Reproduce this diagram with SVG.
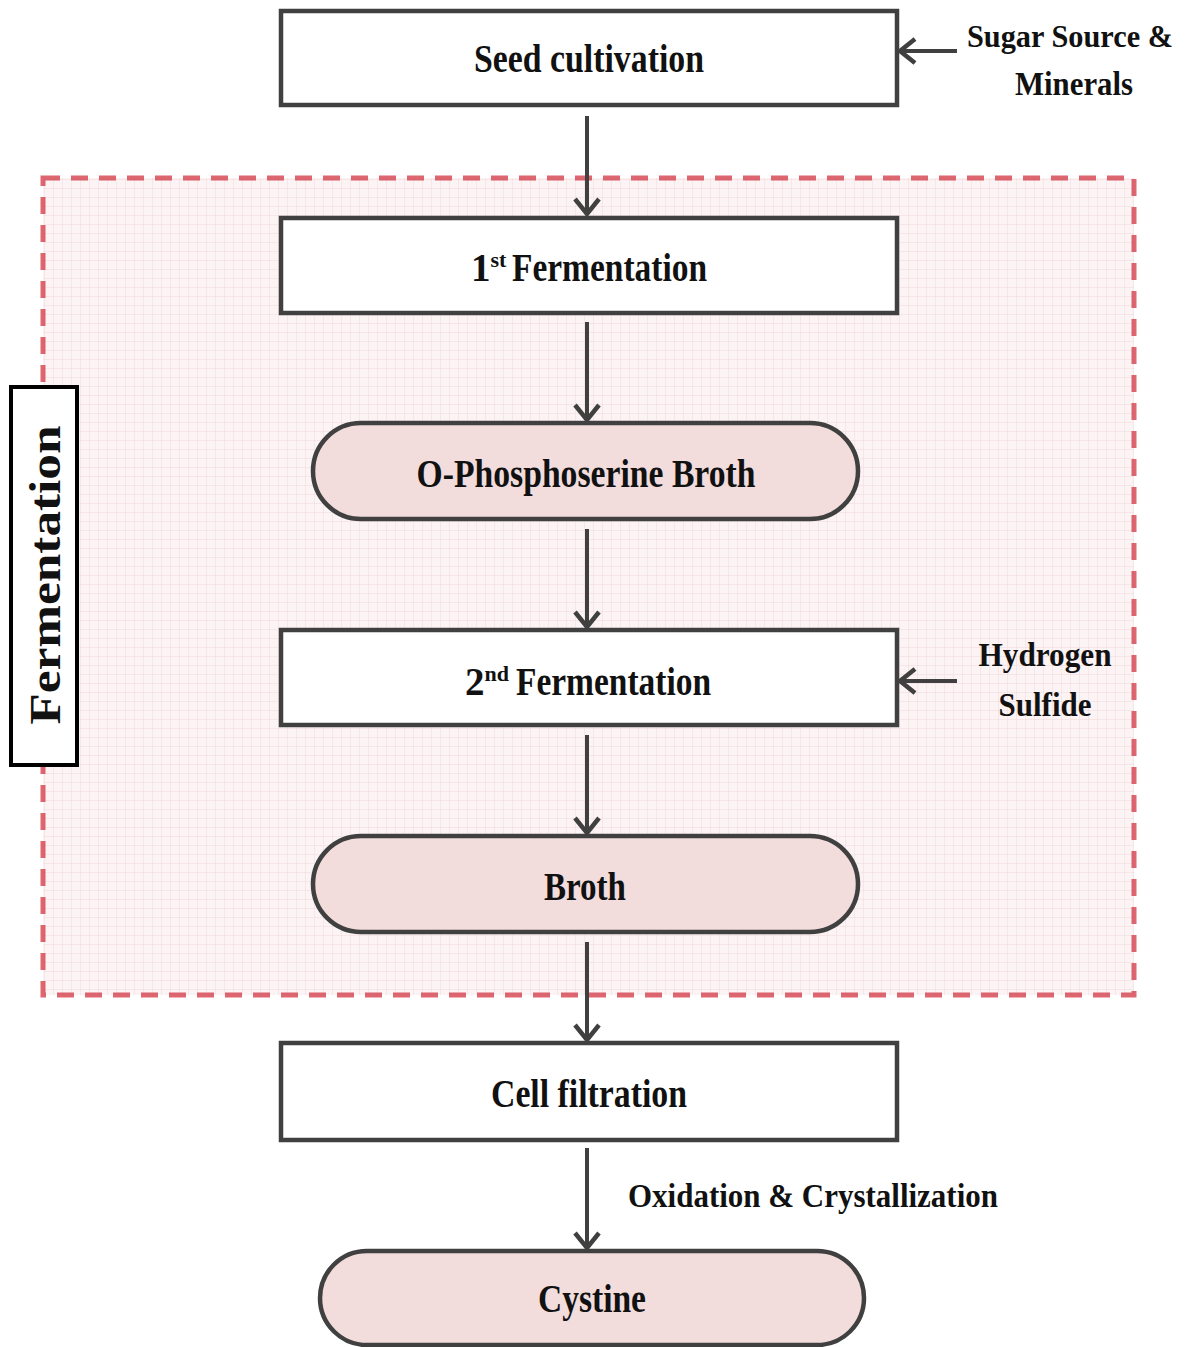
<svg xmlns="http://www.w3.org/2000/svg" width="1188" height="1347" viewBox="0 0 1188 1347">
<defs>
<pattern id="grid" width="9" height="9" patternUnits="userSpaceOnUse">
<rect width="9" height="9" fill="#fbf3f4"/>
<path d="M9,0 L9,9 M0,9 L9,9" stroke="#f1dadd" stroke-width="1" fill="none"/>
</pattern>
<marker id="arr" markerUnits="userSpaceOnUse" markerWidth="28" markerHeight="28" viewBox="0 0 28 28" refX="24" refY="14" orient="auto">
<path d="M9,2 L24,14 L9,26" fill="none" stroke="#404040" stroke-width="4.5" stroke-linejoin="miter"/>
</marker>
</defs>
<style>
.box{fill:#ffffff;stroke:#404040;stroke-width:4.5}
.pill{fill:#f2dcdc;stroke:#404040;stroke-width:4.5}
.t{font-family:"Liberation Serif","Times New Roman",serif;font-weight:bold;fill:#111;font-size:39px}
.s{font-size:34px}
.c{stroke:#404040;stroke-width:4;fill:none;marker-end:url(#arr)}
</style>
<rect width="1188" height="1347" fill="#ffffff"/>
<g id="fermentation-region">
<rect x="43" y="178" width="1091" height="817" fill="url(#grid)" stroke="#d23442" stroke-width="5" stroke-dasharray="17 11" stroke-opacity="0.75"/>
</g>
<g id="fermentation-label">
<rect x="11" y="387" width="66" height="378" fill="#ffffff" stroke="#000" stroke-width="4"/>
<text class="t" transform="translate(60,575) rotate(-90)" text-anchor="middle" textLength="299" lengthAdjust="spacingAndGlyphs" style="font-size:44px">Fermentation</text>
</g>
<g id="connectors">
<line class="c" x1="587" y1="116" x2="587" y2="214"/>
<line class="c" x1="587" y1="322" x2="587" y2="420"/>
<line class="c" x1="587" y1="529" x2="587" y2="627"/>
<line class="c" x1="587" y1="735" x2="587" y2="833"/>
<line class="c" x1="587" y1="942" x2="587" y2="1040"/>
<line class="c" x1="587" y1="1148" x2="587" y2="1248"/>
<line class="c" x1="957" y1="51" x2="900" y2="51"/>
<line class="c" x1="957" y1="681" x2="900" y2="681"/>
</g>
<g id="seed-cultivation">
<rect class="box" x="281" y="11" width="616" height="94"/>
<text class="t" x="589" y="72" text-anchor="middle" textLength="230" lengthAdjust="spacingAndGlyphs">Seed cultivation</text>
</g>
<g id="first-fermentation">
<rect class="box" x="281" y="218" width="616" height="95"/>
<text class="t" x="471" y="281">1<tspan font-size="22" dy="-14">st</tspan></text>
<text class="t" x="512" y="281" textLength="195" lengthAdjust="spacingAndGlyphs">Fermentation</text>
</g>
<g id="o-phosphoserine-broth">
<rect class="pill" x="313" y="423" width="545" height="96" rx="48"/>
<text class="t" x="586" y="487" text-anchor="middle" textLength="339" lengthAdjust="spacingAndGlyphs">O-Phosphoserine Broth</text>
</g>
<g id="second-fermentation">
<rect class="box" x="281" y="630" width="616" height="95"/>
<text class="t" x="465" y="695">2<tspan font-size="22" dy="-14">nd</tspan></text>
<text class="t" x="516" y="695" textLength="195" lengthAdjust="spacingAndGlyphs">Fermentation</text>
</g>
<g id="broth">
<rect class="pill" x="313" y="836" width="545" height="96" rx="48"/>
<text class="t" x="585" y="900" text-anchor="middle" textLength="82" lengthAdjust="spacingAndGlyphs">Broth</text>
</g>
<g id="cell-filtration">
<rect class="box" x="281" y="1043" width="616" height="97"/>
<text class="t" x="589" y="1107" text-anchor="middle" textLength="196" lengthAdjust="spacingAndGlyphs">Cell filtration</text>
</g>
<g id="cystine">
<rect class="pill" x="320" y="1251" width="544" height="94" rx="47"/>
<text class="t" x="592" y="1312" text-anchor="middle" textLength="108" lengthAdjust="spacingAndGlyphs">Cystine</text>
</g>
<g id="labels">
<text class="t" x="967" y="47" textLength="206" lengthAdjust="spacingAndGlyphs" style="font-size:32px">Sugar Source &amp;</text>
<text class="t s" x="1074" y="95" text-anchor="middle" textLength="118" lengthAdjust="spacingAndGlyphs">Minerals</text>
<text class="t s" x="1045" y="666" text-anchor="middle" textLength="133" lengthAdjust="spacingAndGlyphs">Hydrogen</text>
<text class="t s" x="1045" y="716" text-anchor="middle" textLength="93" lengthAdjust="spacingAndGlyphs">Sulfide</text>
<text class="t s" x="813" y="1207" text-anchor="middle" textLength="370" lengthAdjust="spacingAndGlyphs">Oxidation &amp; Crystallization</text>
</g>
</svg>
